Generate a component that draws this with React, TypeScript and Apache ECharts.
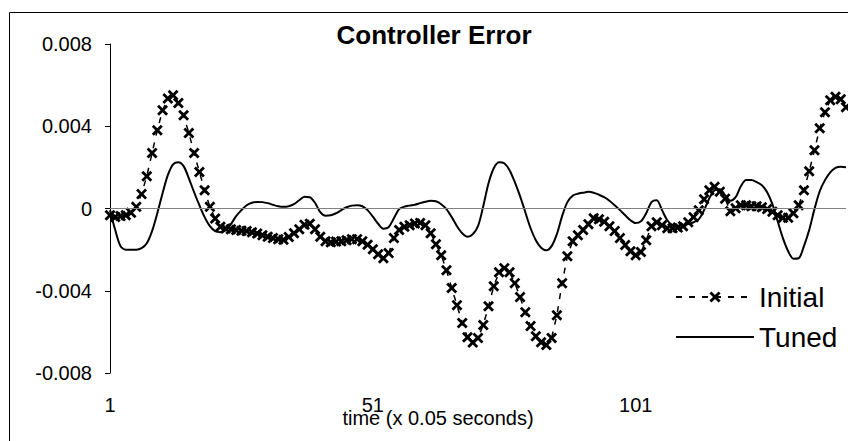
import React, { useEffect, useRef } from "react";
import * as echarts from "echarts";

const CATEGORIES: string[] = Array.from({ length: 141 }, (_, i) => String(i + 1));

const INITIAL: number[] = [
  -0.00033, -0.00041, -0.00037, -0.00033, -0.00021, 0.00008, 0.0007, 0.00157, 0.0027, 0.00381,
  0.00478, 0.00535, 0.00551, 0.00513, 0.00453, 0.00367, 0.0027, 0.00178, 0.00089, 0.00008,
  -0.00049, -0.00089, -0.00097, -0.00101, -0.00105, -0.00108, -0.0011, -0.00115, -0.00122, -0.0013,
  -0.00137, -0.00144, -0.00149, -0.00152, -0.00139, -0.0012, -0.00101, -0.00079, -0.00074, -0.00101,
  -0.00137, -0.00159, -0.00164, -0.00161, -0.00159, -0.00154, -0.00149, -0.00149, -0.00159, -0.00176,
  -0.00198, -0.00222, -0.00242, -0.00217, -0.00144, -0.00105, -0.00089, -0.00081, -0.00073, -0.0007,
  -0.00081, -0.0012, -0.00174, -0.00227, -0.003, -0.00387, -0.0047, -0.00557, -0.00626, -0.00652,
  -0.0063, -0.00567, -0.00475, -0.00378, -0.0031, -0.0029, -0.0031, -0.00363, -0.00431, -0.00504,
  -0.00572, -0.00621, -0.0065, -0.00664, -0.0063, -0.00519, -0.00363, -0.00232, -0.00159, -0.0013,
  -0.00105, -0.00076, -0.00047, -0.00052, -0.00064, -0.00086, -0.0011, -0.00144, -0.00178, -0.00208,
  -0.00227, -0.00212, -0.00154, -0.00086, -0.00067, -0.00081, -0.00096, -0.00096, -0.00093, -0.00086,
  -0.00067, -0.00042, -0.00008, 0.00045, 0.00089, 0.00106, 0.00082, 0.00048, -0.00013, 0.00001,
  0.00016, 0.00016, 0.00011, 0.00011, 0.00006, -0.00003, -0.00016, -0.00033, -0.00045, -0.00045,
  -0.00023, 0.00016, 0.00089, 0.00181, 0.00283, 0.0039, 0.00468, 0.00526, 0.00543, 0.00531, 0.00492,
];

const TUNED: number[] = [
  -0.00008, -0.00105, -0.00183, -0.002, -0.002, -0.002, -0.00193, -0.00169, -0.0011, -0.00023,
  0.00074, 0.00162, 0.00215, 0.00225, 0.00206, 0.00147, 0.00079, 0.00016, -0.00042, -0.00086,
  -0.0011, -0.00115, -0.00105, -0.00076, -0.00037, -0.00008, 0.00016, 0.00028, 0.00032, 0.00031,
  0.00026, 0.00018, 0.00011, 0.00008, 0.00011, 0.00021, 0.0004, 0.00057, 0.00055, 0.00028,
  -0.00018, -0.00035, -0.00033, -0.00023, -0.00008, 0.00006, 0.00014, 0.00016, 0.00011, -0.00008,
  -0.0004, -0.00074, -0.00098, -0.00091, -0.00047, -0.00003, 0.00009, 0.00014, 0.00018, 0.00026,
  0.00033, 0.00038, 0.00035, 0.00021, -0.00003, -0.00042, -0.00086, -0.0012, -0.00137, -0.00125,
  -0.00086, 0.00011, 0.00123, 0.00196, 0.00225, 0.0022, 0.00186, 0.00128, 0.0006, -0.00018,
  -0.00096, -0.00154, -0.00191, -0.00203, -0.00183, -0.00125, -0.00037, 0.00031, 0.00062, 0.00072,
  0.00077, 0.00081, 0.00077, 0.00067, 0.00055, 0.00038, 0.00016, -0.00008, -0.00033, -0.00057,
  -0.00071, -0.00062, -0.00023, 0.00031, 0.0004, -0.00008, -0.00057, -0.00081, -0.00084, -0.00081,
  -0.00076, -0.00067, -0.00052, -0.00008, 0.0005, 0.00089, 0.00094, 0.00065, 0.00038, 0.00055,
  0.00108, 0.00138, 0.00138, 0.00128, 0.00113, 0.00079, 0.00021, -0.00062, -0.00144, -0.00208,
  -0.00244, -0.00242, -0.00183, -0.00105, -0.00003, 0.00084, 0.00138, 0.00176, 0.00198, 0.00203, 0.00201,
];

const TITLE = "Controller Error";
const X_TITLE = "time (x 0.05 seconds)";
const SERIES_NAMES = ["Initial", "Tuned"];

const FONT = "'Liberation Sans', Arial, Helvetica, sans-serif";
const X_MARK =
  "path://M0,1.8 L1.8,0 L5,3.2 L8.2,0 L10,1.8 L6.8,5 L10,8.2 L8.2,10 L5,6.8 L1.8,10 L0,8.2 L3.2,5 Z";

export default function App() {
  const ref = useRef<HTMLDivElement>(null);

  useEffect(() => {
    if (!ref.current) return;
    const chart = echarts.init(ref.current, undefined, { renderer: "svg" });
    chart.setOption({
      animation: false,
      backgroundColor: "#ffffff",
      textStyle: { fontFamily: FONT },
      grid: { left: 110, right: 2, top: 44, bottom: 68, containLabel: false },
      graphic: [
        {
          type: "rect",
          silent: true,
          shape: { x: 9.5, y: 12.5, width: 1200, height: 1200 },
          style: { fill: "none", stroke: "#000", lineWidth: 1 },
          z: -1,
        },
        {
          type: "text",
          silent: true,
          x: 434,
          y: 35,
          style: {
            text: TITLE,
            fontFamily: FONT,
            fontSize: 26,
            fontWeight: "bold",
            fill: "#000",
            textAlign: "center",
            textVerticalAlign: "middle",
          },
        },
        {
          type: "text",
          silent: true,
          x: 438,
          y: 418,
          style: {
            text: X_TITLE,
            fontFamily: FONT,
            fontSize: 20,
            fill: "#000",
            textAlign: "center",
            textVerticalAlign: "middle",
          },
        },
      ],
      legend: {
        orient: "vertical",
        left: 670,
        top: 277,
        itemWidth: 78,
        itemHeight: 14,
        itemGap: 10,
        selectedMode: false,
        data: [
          { name: SERIES_NAMES[0] },
          { name: SERIES_NAMES[1], itemStyle: { opacity: 0 } },
        ],
        textStyle: { fontSize: 28, lineHeight: 30, color: "#000", fontFamily: FONT },
      },
      xAxis: {
        type: "category",
        data: CATEGORIES,
        boundaryGap: false,
        axisLine: { show: false, onZero: false },
        axisTick: { show: false },
        splitLine: { show: false },
        axisLabel: {
          interval: 49,
          margin: 22,
          fontSize: 20,
          color: "#000",
          fontFamily: FONT,
        },
      },
      yAxis: {
        type: "value",
        min: -0.008,
        max: 0.008,
        interval: 0.004,
        axisLine: { show: true, lineStyle: { color: "#000", width: 1 } },
        axisTick: { show: true, length: 5, inside: false, lineStyle: { color: "#000" } },
        splitLine: { show: false },
        axisLabel: {
          margin: 18,
          fontSize: 20,
          color: "#000",
          fontFamily: FONT,
          formatter: (v: number) => (Math.abs(v) < 1e-9 ? "0" : v.toFixed(3)),
        },
      },
      series: [
        {
          name: SERIES_NAMES[0],
          type: "line",
          data: INITIAL,
          symbol: X_MARK,
          symbolSize: 11,
          showAllSymbol: true,
          showSymbol: true,
          itemStyle: { color: "#000" },
          lineStyle: { color: "#000", width: 1.5, type: [6, 7] },
          z: 3,
        },
        {
          name: SERIES_NAMES[1],
          type: "line",
          data: TUNED,
          showSymbol: false,
          symbol: "none",
          smooth: 0.3,
          itemStyle: { color: "#000" },
          lineStyle: { color: "#000", width: 2 },
          z: 2,
          markLine: {
            silent: true,
            symbol: "none",
            label: { show: false },
            lineStyle: { color: "#808080", width: 1, type: "solid" },
            data: [{ yAxis: 0 }],
          },
        },
      ],
    });
    return () => chart.dispose();
  }, []);

  return (
    <div
      ref={ref}
      style={{ position: "absolute", left: 0, top: 0, width: 848, height: 441 }}
    />
  );
}
